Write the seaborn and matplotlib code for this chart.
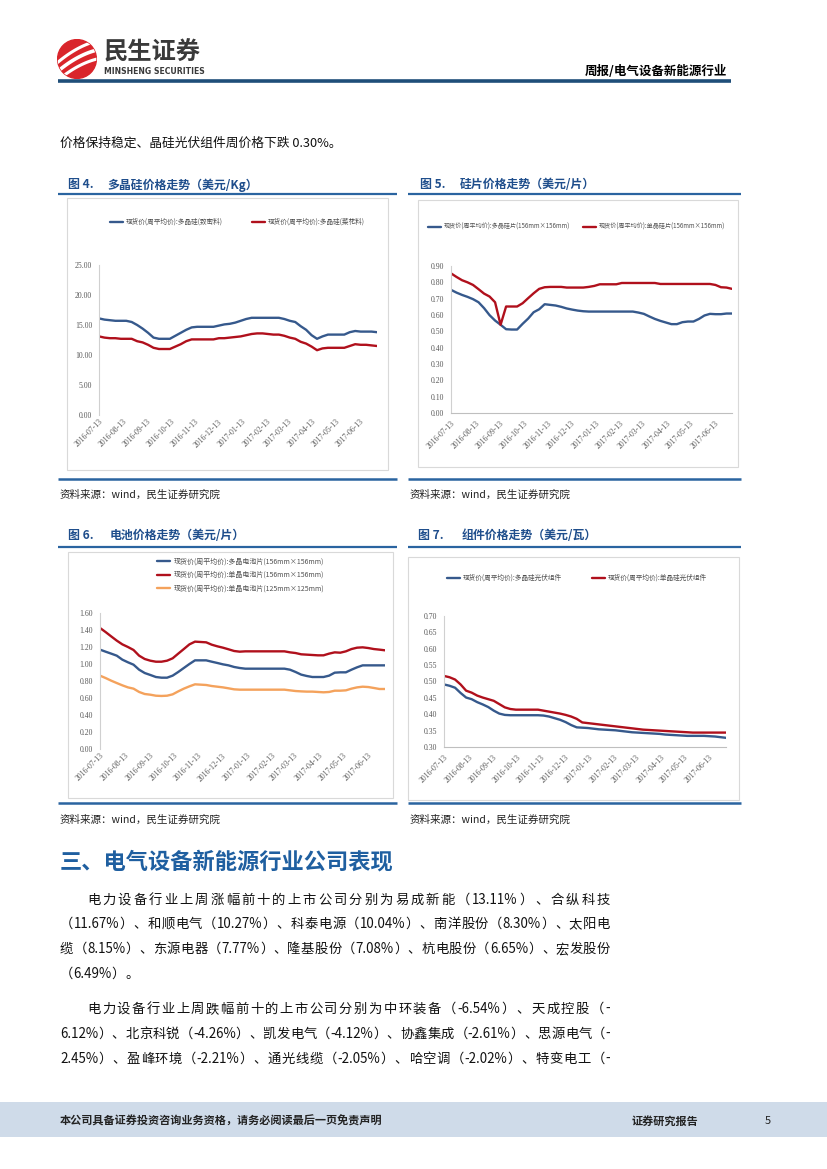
import numpy as np
import pandas as pd
import matplotlib
matplotlib.use("Agg")
import matplotlib.pyplot as plt
import matplotlib.dates as mdates
import matplotlib.ticker as mticker
from matplotlib.patches import Rectangle, Circle
from matplotlib.lines import Line2D
import seaborn as sns

sns.set_theme(style="white")
plt.rcParams["font.family"] = ["Noto Sans CJK SC", "DejaVu Sans"]
plt.rcParams["axes.unicode_minus"] = False

W, H = 827, 1169

# ---------------- data ----------------
dates = pd.date_range("2016-07-13", periods=52, freq="7D")

poly_dense = [16.1, 15.9, 15.8, 15.7, 15.7, 15.7, 15.5, 15.0, 14.4, 13.7,
              12.9, 12.7, 12.7, 12.7, 13.2, 13.7, 14.2, 14.6, 14.7, 14.7,
              14.7, 14.7, 14.9, 15.1, 15.2, 15.4, 15.7, 16.0, 16.2, 16.2,
              16.2, 16.2, 16.2, 16.2, 16.0, 15.7, 15.5, 14.8, 14.2, 13.3,
              12.7, 13.1, 13.4, 13.4, 13.4, 13.4, 13.8, 14.0, 13.9, 13.9,
              13.9, 13.8]
poly_other = [13.1, 12.9, 12.8, 12.8, 12.7, 12.7, 12.7, 12.3, 12.1, 11.7,
              11.2, 11.0, 11.0, 11.0, 11.4, 11.8, 12.3, 12.6, 12.6, 12.6,
              12.6, 12.6, 12.8, 12.8, 12.9, 13.0, 13.1, 13.3, 13.5, 13.6,
              13.6, 13.5, 13.4, 13.4, 13.2, 12.9, 12.7, 12.2, 11.9, 11.4,
              10.8, 11.1, 11.2, 11.2, 11.2, 11.2, 11.5, 11.8, 11.7, 11.7,
              11.6, 11.5]

wafer_multi = [0.754, 0.737, 0.723, 0.711, 0.697, 0.678, 0.642, 0.599, 0.566, 0.540,
               0.513, 0.511, 0.511, 0.546, 0.578, 0.617, 0.635, 0.666, 0.662, 0.658,
               0.650, 0.640, 0.633, 0.627, 0.623, 0.621, 0.621, 0.621, 0.621, 0.621,
               0.621, 0.621, 0.621, 0.621, 0.615, 0.607, 0.591, 0.576, 0.564, 0.554,
               0.544, 0.544, 0.556, 0.560, 0.560, 0.576, 0.597, 0.607, 0.605, 0.605,
               0.609, 0.609]
wafer_mono = [0.855, 0.833, 0.813, 0.800, 0.784, 0.758, 0.731, 0.713, 0.678, 0.540,
              0.652, 0.652, 0.652, 0.672, 0.703, 0.733, 0.760, 0.770, 0.772, 0.772,
              0.772, 0.768, 0.768, 0.768, 0.768, 0.772, 0.778, 0.788, 0.788, 0.788,
              0.788, 0.796, 0.796, 0.796, 0.796, 0.796, 0.796, 0.796, 0.790, 0.790,
              0.790, 0.790, 0.790, 0.790, 0.790, 0.790, 0.790, 0.790, 0.784, 0.770,
              0.768, 0.760]

cell_multi = [1.169, 1.145, 1.122, 1.098, 1.051, 1.020, 0.992, 0.933, 0.894, 0.871,
              0.847, 0.839, 0.839, 0.863, 0.906, 0.953, 1.000, 1.043, 1.043, 1.043,
              1.027, 1.012, 0.996, 0.984, 0.965, 0.953, 0.945, 0.945, 0.945, 0.945,
              0.945, 0.945, 0.945, 0.945, 0.933, 0.906, 0.875, 0.859, 0.847, 0.847,
              0.847, 0.863, 0.898, 0.902, 0.902, 0.933, 0.961, 0.984, 0.984, 0.984,
              0.984, 0.984]
cell_mono = [1.424, 1.376, 1.325, 1.275, 1.231, 1.200, 1.165, 1.098, 1.059, 1.039,
             1.027, 1.027, 1.039, 1.067, 1.122, 1.176, 1.231, 1.263, 1.259, 1.255,
             1.227, 1.208, 1.192, 1.173, 1.153, 1.145, 1.149, 1.149, 1.149, 1.149,
             1.149, 1.149, 1.149, 1.149, 1.137, 1.129, 1.114, 1.110, 1.106, 1.102,
             1.102, 1.122, 1.137, 1.133, 1.149, 1.176, 1.192, 1.196, 1.188, 1.176,
             1.169, 1.161]
cell_small = [0.863, 0.835, 0.804, 0.776, 0.749, 0.725, 0.710, 0.671, 0.647, 0.639,
              0.627, 0.624, 0.627, 0.643, 0.678, 0.710, 0.737, 0.761, 0.757, 0.753,
              0.741, 0.733, 0.725, 0.714, 0.702, 0.698, 0.698, 0.698, 0.698, 0.698,
              0.698, 0.698, 0.698, 0.698, 0.690, 0.682, 0.678, 0.675, 0.675, 0.671,
              0.667, 0.671, 0.686, 0.686, 0.690, 0.710, 0.725, 0.733, 0.729, 0.718,
              0.706, 0.706]

module_a = [0.491, 0.487, 0.481, 0.465, 0.451, 0.446, 0.437, 0.430, 0.422, 0.411,
            0.402, 0.398, 0.397, 0.397, 0.397, 0.397, 0.397, 0.397, 0.396, 0.393,
            0.388, 0.383, 0.376, 0.367, 0.360, 0.359, 0.358, 0.356, 0.354, 0.353,
            0.352, 0.351, 0.349, 0.347, 0.345, 0.344, 0.343, 0.342, 0.341, 0.340,
            0.338, 0.337, 0.336, 0.335, 0.334, 0.334, 0.334, 0.334, 0.333, 0.332,
            0.330, 0.328]
module_b = [0.517, 0.513, 0.506, 0.491, 0.472, 0.466, 0.457, 0.451, 0.446, 0.441,
            0.431, 0.421, 0.416, 0.414, 0.414, 0.414, 0.414, 0.414, 0.411, 0.408,
            0.405, 0.402, 0.398, 0.393, 0.386, 0.375, 0.373, 0.371, 0.369, 0.367,
            0.365, 0.363, 0.361, 0.359, 0.357, 0.355, 0.353, 0.352, 0.351, 0.350,
            0.349, 0.348, 0.347, 0.346, 0.345, 0.344, 0.344, 0.344, 0.344, 0.344,
            0.344, 0.344]

leg4 = ["现货价(周平均价):多晶硅(致密料)", "现货价(周平均价):多晶硅(菜花料)"]
leg5 = ["现货价(周平均价):多晶硅片(156mm×156mm)", "现货价(周平均价):单晶硅片(156mm×156mm)"]
leg6 = ["现货价(周平均价):多晶电池片(156mm×156mm)", "现货价(周平均价):单晶电池片(156mm×156mm)",
        "现货价(周平均价):单晶电池片(125mm×125mm)"]
leg7 = ["现货价(周平均价):多晶硅光伏组件", "现货价(周平均价):单晶硅光伏组件"]

yt4 = [0, 5, 10, 15, 20, 25]
yt5 = [0.0, 0.1, 0.2, 0.3, 0.4, 0.5, 0.6, 0.7, 0.8, 0.9]
yt6 = [0.0, 0.2, 0.4, 0.6, 0.8, 1.0, 1.2, 1.4, 1.6]
yt7 = [0.30, 0.35, 0.40, 0.45, 0.50, 0.55, 0.60, 0.65, 0.70]

BLUE = "#36598c"
RED = "#b0101c"
ORANGE = "#f4a25c"
TITLE_BLUE = "#1f4e8c"
LINE_BLUE = "#2a64a0"

fig = plt.figure(figsize=(W / 100, H / 100), dpi=100)
fig.patch.set_facecolor("white")


def fx(x):
    return x / W


def fy(y):
    return 1 - y / H


def hline(x0, x1, y, lw, color):
    fig.add_artist(Line2D([fx(x0), fx(x1)], [fy(y), fy(y)], transform=fig.transFigure,
                          color=color, lw=lw, solid_capstyle="butt"))


def box(x0, y0, x1, y1, color="#d9d9d9"):
    fig.add_artist(Rectangle((fx(x0), fy(y1)), fx(x1) - fx(x0), fy(y0) - fy(y1),
                             transform=fig.transFigure, fill=False, ec=color, lw=0.8))


def txt(x, y, s, size, color="black", weight="normal", ha="left", **kw):
    return fig.text(fx(x), fy(y), s, fontsize=size, color=color, fontweight=weight,
                    ha=ha, va="center", **kw)


# ---------------- header ----------------
lax = fig.add_axes([fx(57), fy(79), 40 / W, 40 / H])
lax.set_xlim(-1, 1)
lax.set_ylim(-1, 1)
lax.set_aspect("equal")
lax.axis("off")
circ = Circle((0, 0), 0.97, color="#d9252b")
lax.add_patch(circ)
t = np.linspace(-1.2, 1.2, 60)
for d, lw in [(-0.55, 2.2), (-0.1, 2.6), (0.35, 2.2)]:
    ln, = lax.plot(t, 0.55 * t + d + 0.25 * (1 - t ** 2) * 0.6, color="white", lw=lw,
                   solid_capstyle="round")
    ln.set_clip_path(circ)
txt(104, 53, "民生证券", 17.5, color="#3a3a3a", weight="bold")
txt(104, 72, "MINSHENG SECURITIES", 5.6, color="#3a3a3a", weight="bold",
    family=["DejaVu Sans"])
txt(727, 71, "周报/电气设备新能源行业", 9, color="black", weight="bold", ha="right")
hline(58, 731, 81, 2.6, "#1f4e79")

txt(60, 143, "价格保持稳定、晶硅光伏组件周价格下跌 0.30%。", 9.2, color="#111111")

# ---------------- chart titles / frames ----------------
titles = [
    (68, 107, 185, "图 4.", "多晶硅价格走势（美元/Kg）"),
    (420, 460, 185, "图 5.", "硅片价格走势（美元/片）"),
    (68, 110, 536, "图 6.", "电池价格走势（美元/片）"),
    (418, 462, 536, "图 7.", "组件价格走势（美元/瓦）"),
]
for xa, xb, y, a, b in titles:
    txt(xa, y, a, 8.6, color=TITLE_BLUE, weight="bold")
    txt(xb, y, b, 8.6, color=TITLE_BLUE, weight="bold")

for y in (194, 547):
    hline(58, 397, y, 1.6, LINE_BLUE)
    hline(408, 741, y, 1.6, LINE_BLUE)
for y in (479, 803):
    hline(58, 397, y, 1.8, LINE_BLUE)
    hline(408, 741, y, 1.8, LINE_BLUE)

box(67, 198, 388, 470)
box(418, 200, 738, 467)
box(68, 552, 393, 798)
box(408, 557, 739, 800)

for x, y in [(60, 495), (410, 495), (60, 820), (410, 820)]:
    txt(x, y, "资料来源：wind，民生证券研究院", 7.6, color="#222222")


# ---------------- charts ----------------
def make_chart(px0, py0, px1, py1, series, labels, colors, yticks, ylim, show_bottom):
    ax = fig.add_axes([fx(px0), fy(py1), (px1 - px0) / W, (py1 - py0) / H])
    df = pd.DataFrame({"date": dates})
    for lab, vals in zip(labels, series):
        df[lab] = vals
    long = df.melt(id_vars="date", var_name="series", value_name="value")
    sns.lineplot(data=long, x="date", y="value", hue="series", hue_order=labels,
                 palette=colors, linewidth=1.7, ax=ax, legend=False)
    ax.set_facecolor("none")
    ax.set_xlim(dates[0], dates[-1])
    ax.set_ylim(*ylim)
    ax.set_yticks(yticks)
    ax.yaxis.set_major_formatter(mticker.FormatStrFormatter("%.2f"))
    ax.xaxis.set_major_locator(mdates.MonthLocator(bymonthday=13))
    ax.xaxis.set_major_formatter(mdates.DateFormatter("%Y-%m-%d"))
    ax.set_xlabel("")
    ax.set_ylabel("")
    for s in ("top", "right"):
        ax.spines[s].set_visible(False)
    ax.spines["left"].set_color("#d0d0d0")
    ax.spines["left"].set_linewidth(0.8)
    ax.spines["bottom"].set_visible(show_bottom)
    ax.spines["bottom"].set_color("#bfbfbf")
    ax.spines["bottom"].set_linewidth(0.8)
    ax.tick_params(axis="y", length=0, pad=5, labelsize=5.6, labelcolor="#595959")
    ax.tick_params(axis="x", length=2.5 if show_bottom else 0, color="#bfbfbf", pad=2,
                   labelsize=5.6, labelcolor="#595959")
    for lab in ax.get_xticklabels():
        lab.set_rotation(45)
        lab.set_ha("right")
        lab.set_rotation_mode("anchor")
        lab.set_family(["Liberation Serif"])
    for lab in ax.get_yticklabels():
        lab.set_family(["Liberation Serif"])
    ax.grid(False)
    return ax


ax4 = make_chart(99, 265, 377, 415, [poly_dense, poly_other], leg4, [BLUE, RED],
                 yt4, (0, 25), False)
ax5 = make_chart(451, 266, 732, 413, [wafer_multi, wafer_mono], leg5, [BLUE, RED],
                 yt5, (0, 0.9), True)
ax6 = make_chart(100, 613, 385, 749, [cell_multi, cell_mono, cell_small], leg6,
                 [BLUE, RED, ORANGE], yt6, (0, 1.6), False)
ax7 = make_chart(444, 616, 726, 747, [module_a, module_b], leg7, [BLUE, RED],
                 yt7, (0.30, 0.70), True)


def legkw(size):
    return dict(frameon=False, fontsize=size, handlelength=1.9 * 5.0 / size,
                handletextpad=0.45, borderpad=0, borderaxespad=0, loc="center left",
                labelcolor="#505050")


def leg_at(ax, idx, label, x, y, size):
    h = ax.lines[idx]
    fig.legend([h], [label], bbox_to_anchor=(fx(x), fy(y)), **legkw(size))


leg_at(ax4, 0, leg4[0], 110, 222, 4.8)
leg_at(ax4, 1, leg4[1], 252, 222, 4.8)
leg_at(ax5, 0, leg5[0], 428, 227, 4.4)
leg_at(ax5, 1, leg5[1], 583, 227, 4.4)
fig.legend(ax6.lines[:3], leg6, bbox_to_anchor=(fx(157), fy(575)), labelspacing=0.85,
           **legkw(5.0))
leg_at(ax7, 0, leg7[0], 447, 578, 4.8)
leg_at(ax7, 1, leg7[1], 592, 578, 4.8)

# ---------------- section text ----------------
txt(60, 862, "三、电气设备新能源行业公司表现", 16, color="#1f5fa0", weight="bold")

renderer = fig.canvas.get_renderer()


def tokens(s):
    out, buf = [], ""
    for c in s:
        if ord(c) < 128:
            buf += c
        else:
            if buf:
                out.append(buf)
                buf = ""
            out.append(c)
    if buf:
        out.append(buf)
    return out


def justify(s, x0, x1, y, size, stretch=True):
    toks = tokens(s)
    objs = [txt(0, y, tk, size, color="#111111") for tk in toks]
    widths = [o.get_window_extent(renderer).width for o in objs]
    gap = (x1 - x0 - sum(widths)) / (len(toks) - 1) if stretch and len(toks) > 1 else 0
    x = x0
    for o, w in zip(objs, widths):
        o.set_position((fx(x), fy(y)))
        x += w + gap


BODY = 9.6
para = [
    ("电力设备行业上周涨幅前十的上市公司分别为易成新能（13.11%）、合纵科技", 87, 900, True),
    ("（11.67%）、和顺电气（10.27%）、科泰电源（10.04%）、南洋股份（8.30%）、太阳电", 60, 924, True),
    ("缆（8.15%）、东源电器（7.77%）、隆基股份（7.08%）、杭电股份（6.65%）、宏发股份", 60, 949, True),
    ("（6.49%）。", 60, 974, False),
    ("电力设备行业上周跌幅前十的上市公司分别为中环装备（-6.54%）、天成控股（-", 87, 1009, True),
    ("6.12%）、北京科锐（-4.26%）、凯发电气（-4.12%）、协鑫集成（-2.61%）、思源电气（-", 60, 1034, True),
    ("2.45%）、盈峰环境（-2.21%）、通光线缆（-2.05%）、哈空调（-2.02%）、特变电工（-", 60, 1059, True),
]
for s, x0, y, st in para:
    justify(s, x0, 610, y, BODY, st)

# ---------------- footer ----------------
fig.add_artist(Rectangle((0, fy(1137)), 1, (1137 - 1102) / H, transform=fig.transFigure,
                         color="#cfdbe9", lw=0))
txt(60, 1121, "本公司具备证券投资咨询业务资格，请务必阅读最后一页免责声明", 8, color="#222222",
    weight="bold")
txt(632, 1121, "证券研究报告", 8, color="#222222", weight="bold")
txt(765, 1121, "5", 8, color="#222222")

fig.savefig("out.png", dpi=100)
